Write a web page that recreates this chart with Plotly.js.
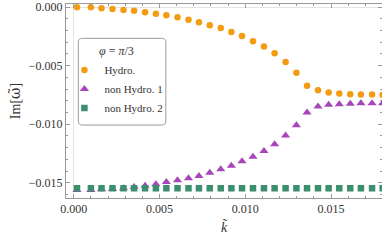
<!DOCTYPE html>
<html><head><meta charset="utf-8">
<script src="https://cdn.plot.ly/plotly-3.0.1.min.js"></script>
<style>html,body{margin:0;padding:0;background:#fff}#plot{width:382px;height:241px}</style>
</head><body><div id="plot"></div>
<script>
const kValues = [0.00019,0.00100,0.00162,0.00226,0.00290,0.00352,0.00416,0.00479,0.00540,0.00605,0.00669,0.00730,0.00793,0.00857,0.00919,0.00981,0.01045,0.01109,0.01171,0.01235,0.01298,0.01360,0.01424,0.01486,0.01548,0.01612,0.01674,0.01739,0.01801];
const hydro = [-0.00003,-0.00003,-0.00011,-0.00017,-0.00026,-0.00032,-0.00045,-0.00057,-0.00071,-0.00088,-0.00108,-0.00130,-0.00156,-0.00179,-0.00213,-0.00247,-0.00292,-0.00338,-0.00395,-0.00469,-0.00562,-0.00673,-0.00710,-0.00730,-0.00739,-0.00744,-0.00747,-0.00747,-0.00750];
const nonHydro1 = [-0.01562,-0.01562,-0.01556,-0.01553,-0.01547,-0.01536,-0.01525,-0.01513,-0.01493,-0.01479,-0.01462,-0.01442,-0.01414,-0.01385,-0.01354,-0.01316,-0.01277,-0.01228,-0.01171,-0.01097,-0.01009,-0.00901,-0.00850,-0.00835,-0.00829,-0.00826,-0.00821,-0.00821,-0.00821];
const nonHydro2 = [-0.01547,-0.01547,-0.01547,-0.01547,-0.01547,-0.01547,-0.01547,-0.01547,-0.01547,-0.01547,-0.01547,-0.01547,-0.01547,-0.01547,-0.01547,-0.01547,-0.01547,-0.01547,-0.01547,-0.01547,-0.01547,-0.01547,-0.01547,-0.01547,-0.01547,-0.01547,-0.01547,-0.01547,-0.01547];
const seriesNames = ['Hydro.','non Hydro. 1','non Hydro. 2'];
const xTicks = [0, 0.005, 0.010, 0.015];
const xTickText = ['0.000','0.005','0.010','0.015'];
const yTicks = [0, -0.005, -0.010, -0.015];
const yTickText = ['0.000','\u22120.005','\u22120.010','\u22120.015'];

const FONT = 'Liberation Serif, DejaVu Serif, serif';
const traces = [
  {x:kValues, y:hydro, name:seriesNames[0], mode:'markers', type:'scatter',
   marker:{symbol:'circle', size:6.5, color:'#F39C12'}},
  {x:kValues, y:nonHydro1, name:seriesNames[1], mode:'markers', type:'scatter',
   marker:{symbol:'triangle-up', size:8, color:'#A646B9'}},
  {x:kValues, y:nonHydro2, name:seriesNames[2], mode:'markers', type:'scatter',
   marker:{symbol:'square', size:6.5, color:'#3B8E6E'}}
];
const axisCommon = {
  showline:true, linecolor:'#9a9a9a', linewidth:1, mirror:'ticks',
  ticks:'inside', ticklen:4, tickcolor:'#9a9a9a', showgrid:false,
  zeroline:true, zerolinecolor:'#e4e4e4', zerolinewidth:1,
  tickfont:{family:FONT, size:12, color:'#333'}
};
const layout = {
  width:382, height:241,
  margin:{l:66, r:0, t:4, b:43},
  paper_bgcolor:'#fff', plot_bgcolor:'#fff',
  showlegend:true,
  xaxis:Object.assign({}, axisCommon, {
    range:[-0.00045, 0.01797], tickvals:xTicks, ticktext:xTickText,
    minor:{dtick:0.001, ticks:'inside', ticklen:2, tickcolor:'#9a9a9a', showgrid:false},
    title:{text:'<i>k\u0303</i>', font:{family:FONT, size:14, color:'#333'}, standoff:6}
  }),
  yaxis:Object.assign({}, axisCommon, {
    range:[-0.0163, 0.000256], tickvals:yTicks, ticktext:yTickText,
    minor:{dtick:0.001, ticks:'inside', ticklen:2, tickcolor:'#9a9a9a', showgrid:false},
    title:{text:'Im[<span style="font-family:DejaVu Serif">\u03c9\u0303</span>]', font:{family:FONT, size:14, color:'#333'}, standoff:4}
  }),
  legend:{x:-0.005, y:0.815, xanchor:'left', yanchor:'top', bgcolor:'rgba(0,0,0,0)', borderwidth:0,
    font:{family:FONT, size:11, color:'#333'}, tracegroupgap:0,
    title:{text:'<i>\u03c6</i> = <i>\u03c0</i>/3', side:'top center', font:{family:FONT, size:12, color:'#333'}}},
  shapes:[{type:'path', xref:'paper', yref:'paper',
    path:'M 0.052 0.823 L 0.303 0.823 Q 0.316 0.823 0.316 0.802 L 0.316 0.397 Q 0.316 0.376 0.303 0.376 L 0.052 0.376 Q 0.039 0.376 0.039 0.397 L 0.039 0.802 Q 0.039 0.823 0.052 0.823 Z',
    line:{color:'#9a9a9a', width:1}, fillcolor:'rgba(255,255,255,1)', layer:'below'}]
};
Plotly.newPlot('plot', traces, layout, {displayModeBar:false, staticPlot:true});
</script></body></html>
